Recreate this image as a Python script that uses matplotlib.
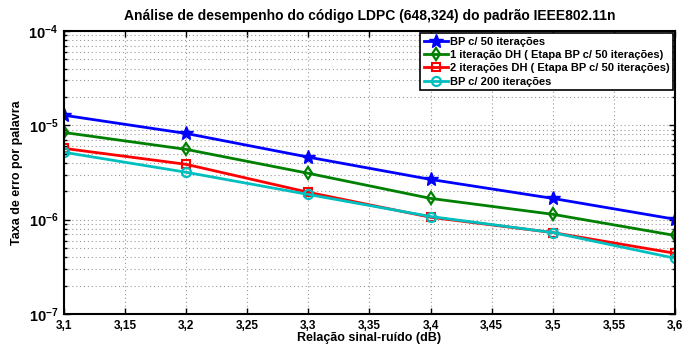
import matplotlib
matplotlib.use("Agg")
import matplotlib.pyplot as plt
from matplotlib.ticker import LogLocator, NullFormatter

plt.rcParams['font.family'] = ['Liberation Sans', 'DejaVu Sans']
plt.rcParams['font.weight'] = 'bold'
plt.rcParams['mathtext.fontset'] = 'custom'
plt.rcParams['mathtext.rm'] = 'Liberation Sans:bold'
plt.rcParams['mathtext.it'] = 'Liberation Sans:bold'
plt.rcParams['mathtext.bf'] = 'Liberation Sans:bold'
plt.rcParams['mathtext.default'] = 'regular'

snr = [3.1, 3.2, 3.3, 3.4, 3.5, 3.6]
bp50 = [1.28e-5, 8.2e-6, 4.6e-6, 2.67e-6, 1.68e-6, 1.01e-6]
dh1 = [8.4e-6, 5.56e-6, 3.10e-6, 1.68e-6, 1.14e-6, 6.8e-7]
dh2 = [5.7e-6, 3.86e-6, 1.95e-6, 1.06e-6, 7.3e-7, 4.4e-7]
bp200 = [5.18e-6, 3.18e-6, 1.85e-6, 1.08e-6, 7.3e-7, 3.9e-7]

xticks = [3.1, 3.15, 3.2, 3.25, 3.3, 3.35, 3.4, 3.45, 3.5, 3.55, 3.6]
xticklabels = ['3,1', '3,15', '3,2', '3,25', '3,3', '3,35', '3,4', '3,45', '3,5', '3,55', '3,6']

labels = ['BP c/ 50 iterações',
          '1 iteração DH ( Etapa BP c/ 50 iterações)',
          '2 iterações DH ( Etapa BP c/ 50 iterações)',
          'BP c/ 200 iterações']

fig = plt.figure(figsize=(6.82, 3.46), dpi=100)
ax = fig.add_axes([0.0938, 0.0925, 0.8959, 0.8179])

ax.semilogy(snr, bp50, color='#0000ff', lw=2, marker='*', ms=10, mfc='#0000ff', mec='#0000ff', label=labels[0])
ax.semilogy(snr, dh1, color='#008000', lw=2, marker='d', ms=6.5, mfc='none', mec='#008000', mew=1.6, label=labels[1])
ax.semilogy(snr, dh2, color='#ff0000', lw=2, marker='s', ms=6, mfc='none', mec='#ff0000', mew=1.5, label=labels[2])
ax.semilogy(snr, bp200, color='#00bfbf', lw=2, marker='o', ms=6.5, mfc='none', mec='#00bfbf', mew=1.6, label=labels[3])

ax.set_xlim(3.1, 3.6)
ax.set_ylim(1e-7, 1e-4)
ax.set_xticks(xticks)
ax.set_xticklabels(xticklabels)
ax.yaxis.set_major_locator(LogLocator(base=10, numticks=10))
ax.yaxis.set_minor_locator(LogLocator(base=10, subs=range(2, 10), numticks=20))
ax.yaxis.set_minor_formatter(NullFormatter())

ax.grid(True, which='major', linestyle=(0, (1, 2.5)), color='#999999', lw=0.8)
ax.grid(True, which='minor', axis='y', linestyle=(0, (1, 2.5)), color='#999999', lw=0.8)
ax.tick_params(which='both', direction='in', top=True, right=True)
ax.tick_params(axis='x', labelsize=8.5, pad=4.5)
ax.tick_params(axis='y', labelsize=10.5, pad=4)
ax.tick_params(which='major', length=4, width=1)
ax.tick_params(which='minor', length=2.5, width=1)
for s in ax.spines.values():
    s.set_linewidth(1.5)

ax.set_title('Análise de desempenho do código LDPC (648,324) do padrão IEEE802.11n',
             fontsize=10, fontweight='bold', pad=8)
ax.set_xlabel('Relação sinal-ruído (dB)', fontsize=9, fontweight='bold', labelpad=0)
ax.set_ylabel('Taxa de erro por palavra', fontsize=9, fontweight='bold', labelpad=4)

leg = ax.legend(loc='upper right', fontsize=8, frameon=True, fancybox=False,
                edgecolor='black', framealpha=1, handlelength=2.2, handletextpad=0.15,
                borderpad=0.3, labelspacing=0.3, borderaxespad=0.2)
leg.get_frame().set_linewidth(1.2)

fig.savefig('out.png', dpi=100)
